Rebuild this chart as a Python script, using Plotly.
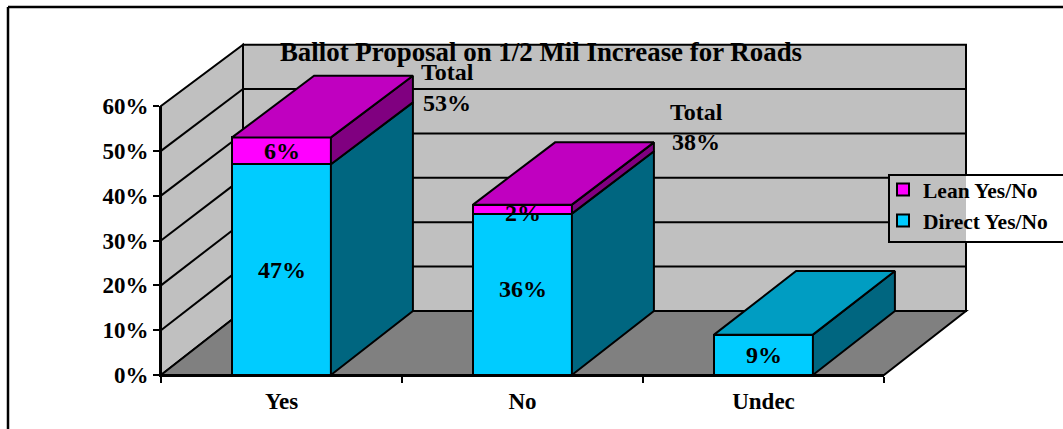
import plotly.graph_objects as go

W, H = 1063, 429
categories = ["Yes", "No", "Undec"]
direct_values = [47, 36, 9]
lean_values = [6, 2, 0]
direct_labels = ["47%", "36%", "9%"]
lean_labels = ["6%", "2%", ""]
totals = [("Total", 53), ("Total", 38)]
y_ticks = [0, 10, 20, 30, 40, 50, 60]
y_tick_labels = ["0%", "10%", "20%", "30%", "40%", "50%", "60%"]

FONT = "Liberation Serif"
CYAN, CYAN_TOP, CYAN_SIDE = "#00CCFF", "#009DC2", "#006680"
MAG, MAG_TOP, MAG_SIDE = "#FF00FF", "#C000C0", "#800080"
WALL, FLOOR = "#C0C0C0", "#808080"

# plot box of the front plane, in pixels
PX0, PX1, PY0, PY1 = 161, 884, 375, 106
PX_PER_X = (PX1 - PX0) / 3
PX_PER_V = (PY0 - PY1) / 60
DEPTH_X, DEPTH_Y, BACK_SCALE = 82 / PX_PER_X, 64 / PX_PER_V, 0.99
BAR_WIDTH = 0.41
xs = [i + 0.5 for i in range(len(categories))]


def proj(x, v, d):
    return x + d * DEPTH_X, v * (1 - d * (1 - BACK_SCALE)) + d * DEPTH_Y


def paper(x, v, d=0):
    px, pv = proj(x, v, d)
    return PX0 + px * PX_PER_X, PY0 - pv * PX_PER_V


def poly(points, fill, lw=2):
    path = "M" + " L".join(f"{a / W:.5f},{1 - b / H:.5f}" for a, b in points) + " Z"
    return dict(type="path", xref="paper", yref="paper", path=path, fillcolor=fill,
                line=dict(color="black", width=lw), layer="below")


def seg(x0, y0, x1, y1, lw=2):
    return dict(type="line", xref="paper", yref="paper", x0=x0 / W, x1=x1 / W,
                y0=1 - y0 / H, y1=1 - y1 / H, line=dict(color="black", width=lw), layer="below")


shapes = [
    poly([paper(0, 0), paper(0, 60), paper(0, 60, 1), paper(0, 0, 1)], WALL),
    poly([paper(0, 0, 1), paper(0, 60, 1), paper(3, 60, 1), paper(3, 0, 1)], WALL),
    poly([paper(0, 0), paper(0, 0, 1), paper(3, 0, 1), paper(3, 0)], FLOOR),
]
for t in y_ticks[1:-1]:
    shapes.append(seg(*paper(0, t), *paper(0, t, 1)))
    shapes.append(seg(*paper(0, t, 1), *paper(3, t, 1)))

# legend box, with the panel showing through on its left part
LX0, LX1, LY0, LY1 = 889, 1070, 175, 242
wall_right = paper(3, 0, 1)[0]
for a, b, c in [(LX0, wall_right, WALL), (wall_right, LX1, "white")]:
    shapes.append(dict(type="rect", xref="paper", yref="paper", x0=a / W, x1=b / W,
                       y0=1 - LY1 / H, y1=1 - LY0 / H, fillcolor=c,
                       line=dict(width=0), layer="below"))
shapes.append(dict(type="rect", xref="paper", yref="paper", x0=LX0 / W, x1=LX1 / W,
                   y0=1 - LY1 / H, y1=1 - LY0 / H, line=dict(color="black", width=2),
                   layer="below"))
# outer chart frame
shapes.append(seg(8, 7, 8, H + 2, 2.5))
shapes.append(seg(8, 7, W + 2, 7, 2.5))

fig = go.Figure()
fig.add_bar(x=xs, y=direct_values, name="Direct Yes/No", width=BAR_WIDTH, cliponaxis=False,
            marker=dict(color=CYAN, line=dict(color="black", width=2)), hoverinfo="skip")
fig.add_bar(x=xs, y=lean_values, name="Lean Yes/No", width=BAR_WIDTH, cliponaxis=False,
            marker=dict(color=MAG, line=dict(color="black", width=2)), hoverinfo="skip")


def face(pts, fill):
    # depth faces sit on a hidden full-page axis pair with the same units
    fig.add_scatter(x=[p[0] for p in pts] + [pts[0][0]], y=[p[1] for p in pts] + [pts[0][1]],
                    xaxis="x2", yaxis="y2",
                    mode="lines", fill="toself", fillcolor=fill, cliponaxis=False,
                    line=dict(color="black", width=2), showlegend=False, hoverinfo="skip")


for x, d, l in zip(xs, direct_values, lean_values):
    r = x + BAR_WIDTH / 2
    left = x - BAR_WIDTH / 2
    total = d + l
    face([proj(r, 0, 0), proj(r, d, 0), proj(r, d, 1), proj(r, 0, 1)], CYAN_SIDE)
    if l:
        face([proj(r, d, 0), proj(r, total, 0), proj(r, total, 1), proj(r, d, 1)], MAG_SIDE)
    face([proj(left, total, 0), proj(left, total, 1), proj(r, total, 1), proj(r, total, 0)],
         MAG_TOP if l else CYAN_TOP)

ann_font = dict(family=FONT, size=24, color="black", weight=700)
annotations = []
for x, d, l, dl, ll in zip(xs, direct_values, lean_values, direct_labels, lean_labels):
    shift = 5 if d == 36 else 0
    annotations.append(dict(x=x, y=d / 2, xref="x", yref="y", text=dl, showarrow=False,
                            font=ann_font, yshift=shift, xanchor="center", yanchor="middle"))
    if ll:
        annotations.append(dict(x=x, y=d + l / 2, xref="x", yref="y", text=ll, showarrow=False,
                                font=ann_font, yshift=-4 if l == 2 else 0,
                                xanchor="center", yanchor="middle"))
# totals float above and behind the bars
for (word, val), (cx, y1, y2) in zip(totals, [(447, 72, 103), (696, 112, 142)]):
    annotations.append(dict(x=cx / W, y=1 - y1 / H, xref="paper", yref="paper", text=word,
                            showarrow=False, font=ann_font, xanchor="center", yanchor="middle"))
    annotations.append(dict(x=cx / W, y=1 - y2 / H, xref="paper", yref="paper", text=f"{val}%",
                            showarrow=False, font=ann_font, xanchor="center", yanchor="middle"))

fig.update_layout(
    width=W, height=H, barmode="stack", plot_bgcolor="rgba(0,0,0,0)", paper_bgcolor="white",
    margin=dict(l=0, r=0, t=0, b=0, autoexpand=False), shapes=shapes, annotations=annotations,
    title=dict(text="Ballot Proposal on 1/2 Mil Increase for Roads", x=541 / W, y=1 - 52 / H,
               xanchor="center", yanchor="middle", xref="paper", yref="paper",
               font=dict(family=FONT, size=26.9, color="black", weight=700)),
    xaxis=dict(domain=[PX0 / W, PX1 / W], range=[0, 3], tickvals=xs, ticktext=categories,
               ticks="", showgrid=False, zeroline=False, showline=True, linecolor="black",
               linewidth=2, ticklabelstandoff=4,
               tickfont=dict(family=FONT, size=23, color="black", weight=700),
               minor=dict(tickvals=[0, 1, 2, 3], ticks="outside", ticklen=6, tickwidth=2,
                          tickcolor="black", showgrid=False)),
    yaxis=dict(domain=[1 - PY0 / H, 1 - PY1 / H], range=[0, 60], tickvals=y_ticks,
               ticktext=y_tick_labels, ticks="outside", ticklen=6, tickwidth=2,
               tickcolor="black", ticklabelstandoff=0,
               showgrid=False, zeroline=False, showline=True, linecolor="black", linewidth=2,
               tickfont=dict(family=FONT, size=23, color="black", weight=700)),
    xaxis2=dict(domain=[0, 1], range=[-PX0 / PX_PER_X, (W - PX0) / PX_PER_X], visible=False,
                anchor="y2", fixedrange=True),
    yaxis2=dict(domain=[0, 1], range=[(PY0 - H) / PX_PER_V, PY0 / PX_PER_V], visible=False,
                anchor="x2", fixedrange=True),
    legend=dict(x=883 / W, y=1 - 169 / H, xanchor="left", yanchor="top",
                bgcolor="rgba(0,0,0,0)", borderwidth=0, traceorder="reversed",
                font=dict(family=FONT, size=21.5, color="black", weight=700)),
)

fig.write_html("out.html", config=dict(displayModeBar=False),
               post_script="document.body.style.margin='0';document.body.style.overflow='hidden';")
